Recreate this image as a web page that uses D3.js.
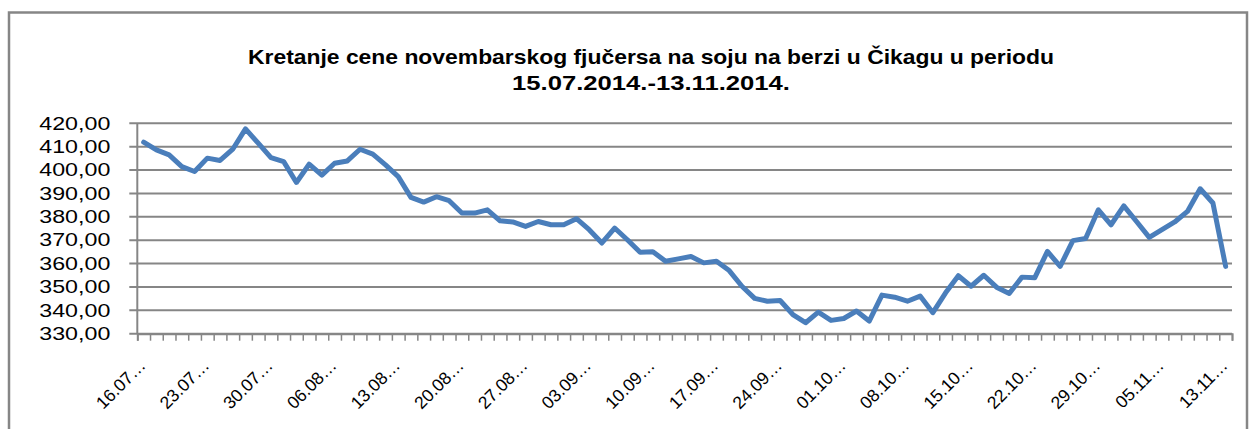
<!DOCTYPE html>
<html lang="sr">
<head>
    <meta charset="UTF-8">
    <title>Kretanje cene novembarskog fjučersa na soju</title>
    <script src="https://cdn.jsdelivr.net/npm/d3@7"></script>
    <style>
        body { margin: 0; background: #fff; }
        text { font-family: "Liberation Sans", Arial, sans-serif; fill: #000; }
    </style>
</head>
<body>
<svg id="main" width="1254" height="429"></svg>
<script>
    // trgovacki dani (11.11. nedostaje u podacima)
    const dates = [
        '16.07','17.07','18.07','21.07','22.07','23.07','24.07','25.07','28.07','29.07','30.07','31.07',
        '01.08','04.08','05.08','06.08','07.08','08.08','11.08','12.08','13.08','14.08','15.08','18.08',
        '19.08','20.08','21.08','22.08','25.08','26.08','27.08','28.08','29.08',
        '01.09','02.09','03.09','04.09','05.09','08.09','09.09','10.09','11.09','12.09','15.09','16.09',
        '17.09','18.09','19.09','22.09','23.09','24.09','25.09','26.09','29.09','30.09',
        '01.10','02.10','03.10','06.10','07.10','08.10','09.10','10.10','13.10','14.10','15.10','16.10',
        '17.10','20.10','21.10','22.10','23.10','24.10','27.10','28.10','29.10','30.10','31.10',
        '03.11','04.11','05.11','06.11','07.11','10.11','12.11','13.11'
    ];
    const prices = [
        411.9, 408.6, 406.5, 401.5, 399.4, 405.1, 404.1, 408.9, 417.6, 411.5, 405.3, 403.6,
        394.7, 402.5, 397.8, 402.9, 403.9, 408.9, 406.8, 402.2, 397.2, 388.3, 386.3, 388.6,
        386.9, 381.6, 381.6, 383.0, 378.3, 377.8, 375.9, 378.0, 376.6,
        376.6, 379.2, 374.5, 368.8, 375.2, 370.2, 364.8, 365.1, 361.0, 362.0, 363.0, 360.3,
        361.0, 357.0, 350.3, 345.1, 343.9, 344.2, 338.2, 334.7, 339.2, 335.7,
        336.5, 339.7, 335.4, 346.5, 345.6, 343.9, 346.1, 339.0, 347.5, 354.8, 350.3, 355.0,
        349.9, 347.2, 354.2, 353.9, 365.2, 358.8, 369.8, 370.7, 383.0, 376.6,
        384.7, 378.0, 371.2, 374.5, 377.8, 382.3, 392.0, 385.9, 358.8
    ];
    const yTicks = [330, 340, 350, 360, 370, 380, 390, 400, 410, 420];
    const labelEvery = 5;
    const titleLines = [
        'Kretanje cene novembarskog fjučersa na soju na berzi u Čikagu u periodu',
        '15.07.2014.-13.11.2014.'
    ];

    const plotLeft = 137.3, plotRight = 1232, plotTop = 123.3, plotBottom = 333.7;
    const gray = '#868686';

    let svg = d3.select('svg#main');

    // okvir
    svg.append('rect')
        .attr('x', 9).attr('y', 12.5)
        .attr('width', 1238).attr('height', 440)
        .attr('fill', 'none')
        .attr('stroke', gray)
        .attr('stroke-width', 2.5);

    // naslov
    svg.selectAll('text.title')
        .data(titleLines)
        .enter()
        .append('text')
        .attr('class', 'title')
        .attr('x', 651)
        .attr('y', (d, i) => 64 + i * 26)
        .attr('text-anchor', 'middle')
        .attr('font-size', 20.5)
        .attr('font-weight', 'bold')
        .attr('textLength', (d, i) => i === 0 ? 806 : 278)
        .attr('lengthAdjust', 'spacingAndGlyphs')
        .text(d => d);

    let x = d3.scaleBand().domain(dates).range([plotLeft, plotRight]).padding(0);
    let xEdges = d3.scaleLinear().domain([0, dates.length]).range([plotLeft, plotRight]);
    let y = d3.scaleLinear().domain([330, 420]).range([plotBottom, plotTop]);

    // mreza
    svg.append('g')
        .selectAll('line')
        .data(yTicks)
        .enter()
        .append('line')
        .attr('x1', plotLeft - 8).attr('x2', plotRight)
        .attr('y1', d => y(d)).attr('y2', d => y(d))
        .attr('stroke', gray)
        .attr('stroke-width', 2);

    // y osa
    let yAxis = svg.append('g')
        .attr('transform', `translate(${plotLeft - 8},0)`)
        .call(d3.axisLeft(y).tickValues(yTicks).tickSize(0).tickPadding(19)
            .tickFormat(d => d.toFixed(2).replace('.', ',')));
    yAxis.select('.domain').remove();
    yAxis.selectAll('text')
        .attr('font-size', 18)
        .attr('font-family', '"Liberation Sans", Arial, sans-serif')
        .attr('fill', '#000')
        .attr('textLength', 71)
        .attr('lengthAdjust', 'spacingAndGlyphs');

    svg.append('line')
        .attr('x1', plotLeft).attr('x2', plotLeft)
        .attr('y1', plotTop).attr('y2', plotBottom)
        .attr('stroke', gray).attr('stroke-width', 2);

    // x osa sa podeocima izmedju kategorija
    let xAxis = svg.append('g')
        .attr('transform', `translate(0,${plotBottom})`)
        .call(d3.axisBottom(xEdges).tickValues(d3.range(dates.length + 1)).tickSize(7).tickFormat(''));
    xAxis.select('.domain').attr('stroke', gray).attr('stroke-width', 2);
    xAxis.selectAll('line').attr('stroke', gray).attr('stroke-width', 1.5);

    // oznake datuma
    svg.append('g')
        .selectAll('text')
        .data(dates.filter((d, i) => i % labelEvery === 0))
        .enter()
        .append('text')
        .attr('transform', d => `translate(${x(d) + x.bandwidth() / 2 + 3},${plotBottom + 33}) rotate(-45)`)
        .attr('text-anchor', 'end')
        .attr('font-size', 17.5)
        .text(d => d + '…');

    // linija cene
    let line = d3.line()
        .x((d, i) => x(dates[i]) + x.bandwidth() / 2)
        .y(d => y(d));

    svg.append('path')
        .datum(prices)
        .attr('d', line)
        .attr('fill', 'none')
        .attr('stroke', '#4A7EBB')
        .attr('stroke-width', 5)
        .attr('stroke-linejoin', 'round')
        .attr('stroke-linecap', 'round');
</script>
</body>
</html>
